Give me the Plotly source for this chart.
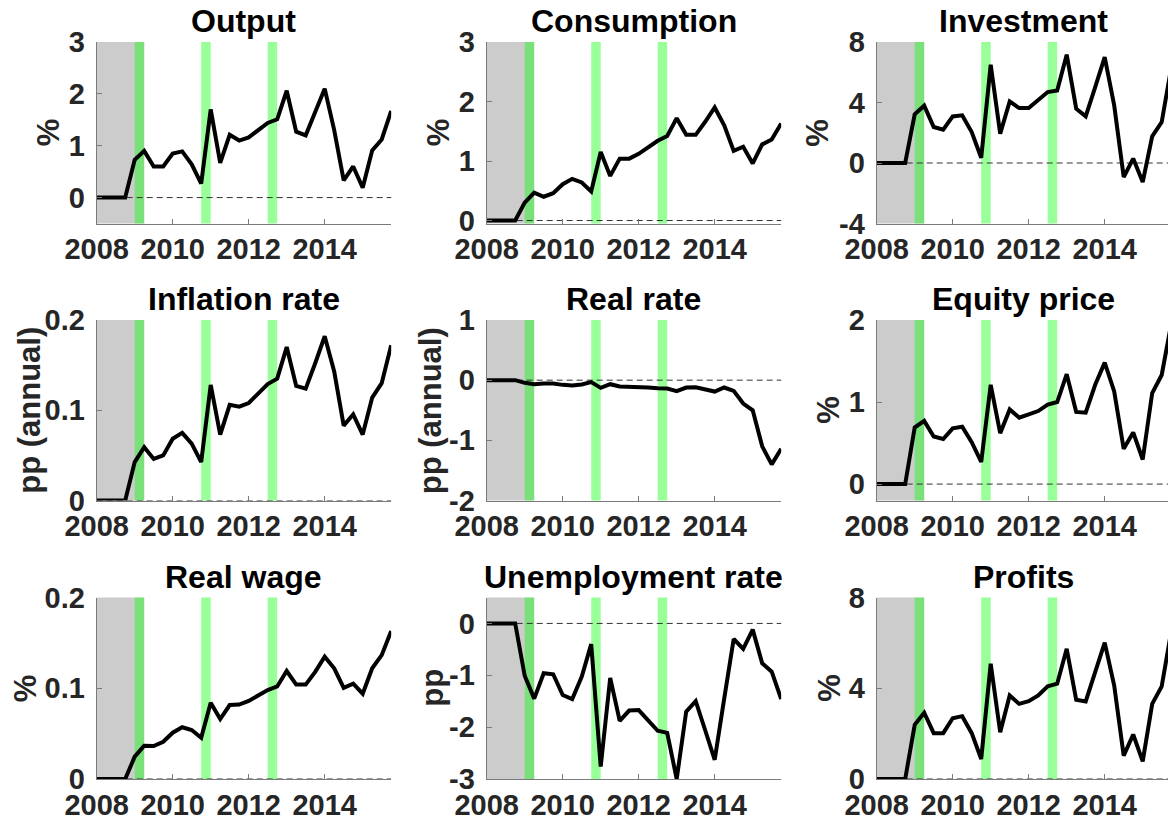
import plotly.graph_objects as go

# ---------------- data ----------------
quarters = [2008.0, 2008.25, 2008.5, 2008.75, 2009.0, 2009.25, 2009.5, 2009.75,
            2010.0, 2010.25, 2010.5, 2010.75, 2011.0, 2011.25, 2011.5, 2011.75,
            2012.0, 2012.25, 2012.5, 2012.75, 2013.0, 2013.25, 2013.5, 2013.75,
            2014.0, 2014.25, 2014.5, 2014.75, 2015.0, 2015.25, 2015.5, 2015.75]

output = [0, 0, 0, 0, 0.73, 0.90, 0.60, 0.60, 0.85, 0.89, 0.64, 0.27,
          1.70, 0.67, 1.21, 1.10, 1.16, 1.30, 1.44, 1.51, 2.06, 1.27, 1.20, 1.65,
          2.10, 1.30, 0.33, 0.60, 0.19, 0.91, 1.12, 1.67]
consumption = [0, 0, 0, 0, 0.30, 0.47, 0.40, 0.46, 0.61, 0.70, 0.64, 0.49,
               1.15, 0.75, 1.04, 1.04, 1.12, 1.22, 1.34, 1.42, 1.72, 1.44, 1.44, 1.66,
               1.90, 1.60, 1.17, 1.24, 0.96, 1.28, 1.36, 1.63]
investment = [0, 0, 0, 0, 3.22, 3.79, 2.38, 2.20, 3.08, 3.15, 2.05, 0.35,
              6.50, 1.94, 4.07, 3.63, 3.63, 4.14, 4.69, 4.80, 7.16, 3.59, 3.08, 5.02,
              7.00, 3.81, -0.93, 0.29, -1.26, 1.76, 2.71, 6.30]
inflation = [0, 0, 0, 0, 0.0426, 0.059, 0.046, 0.050, 0.0685, 0.075, 0.063, 0.0426,
             0.128, 0.073, 0.106, 0.104, 0.108, 0.1185, 0.129, 0.135, 0.170, 0.127, 0.124, 0.152,
             0.182, 0.143, 0.083, 0.0955, 0.073, 0.114, 0.130, 0.172]
real_rate = [0, 0, 0, 0, -0.044, -0.067, -0.056, -0.056, -0.078, -0.089, -0.072, -0.033,
             -0.128, -0.067, -0.106, -0.106, -0.111, -0.122, -0.133, -0.139, -0.183, -0.122, -0.117, -0.150,
             -0.189, -0.122, -0.178, -0.389, -0.50, -1.10, -1.40, -1.14]
equity = [0, 0, 0, 0, 0.69, 0.77, 0.58, 0.55, 0.68, 0.70, 0.51, 0.27,
          1.21, 0.62, 0.91, 0.81, 0.85, 0.89, 0.97, 1.00, 1.34, 0.88, 0.87, 1.21,
          1.48, 1.13, 0.43, 0.63, 0.30, 1.11, 1.33, 1.95]
real_wage = [0, 0, 0, 0, 0.0246, 0.0367, 0.0363, 0.041, 0.051, 0.057, 0.054, 0.0455,
             0.084, 0.066, 0.0815, 0.082, 0.086, 0.0925, 0.098, 0.102, 0.119, 0.104, 0.104, 0.118,
             0.1347, 0.122, 0.1005, 0.105, 0.094, 0.122, 0.1365, 0.163]
unemployment = [0, 0, 0, 0, -1.01, -1.45, -0.96, -0.98, -1.38, -1.46, -1.03, -0.40,
                -2.76, -1.05, -1.88, -1.68, -1.67, -1.88, -2.07, -2.11, -3.00, -1.70, -1.50, -2.06,
                -2.63, -1.45, -0.30, -0.49, -0.12, -0.77, -0.93, -1.46]
profits = [0, 0, 0, 0, 2.39, 2.92, 2.02, 2.02, 2.68, 2.77, 2.02, 0.88,
           5.08, 2.06, 3.68, 3.31, 3.43, 3.68, 4.09, 4.20, 5.74, 3.49, 3.42, 4.74,
           6.01, 4.12, 1.03, 1.96, 0.78, 3.31, 4.08, 6.50]

titles = ["Output", "Consumption", "Investment",
          "Inflation rate", "Real rate", "Equity price",
          "Real wage", "Unemployment rate", "Profits"]
ylabels = ["%", "%", "%",
           "pp (annual)", "pp (annual)", "%",
           "%", "pp", "%"]
series = [output, consumption, investment,
          inflation, real_rate, equity,
          real_wage, unemployment, profits]
yranges = [[-0.5, 3], [-0.05, 3], [-4, 8],
           [0, 0.2], [-2, 1], [-0.2, 2],
           [0, 0.2], [-3, 0.5], [0, 8]]
yticks = [[0, 1, 2, 3], [0, 1, 2, 3], [-4, 0, 4, 8],
          [0, 0.1, 0.2], [-2, -1, 0, 1], [0, 1, 2],
          [0, 0.1, 0.2], [-3, -2, -1, 0], [0, 4, 8]]
xtick_vals = [2008, 2010, 2012, 2014]
xtick_text = ["2008", "2010", "2012", "2014"]

recession = [2008.0, 2009.25]
green_bands = [[2009.0, 2009.25], [2010.75, 2011.0], [2012.5, 2012.75]]
x_full = [2008.0, 2015.75]

# ---------------- layout geometry (pixels) ----------------
W, H = 1168, 821
col_left = [96.7, 486.7, 876.7]
plot_w = 294.5
row_top = [42.0, 320.0, 597.5]
row_bot = [223.5, 500.5, 779.0]
ylabel_x = [48.5, 438.5, 818, 29.5, 430, 828.5, 25, 432.5, 829.5]

FONT = "Liberation Sans, Arial, Helvetica, sans-serif"
AX_COLOR = "#262626"
LINE_COL = "#7a7a7a"

fig = go.Figure()
layout = dict(
    width=W, height=H, autosize=False,
    margin=dict(l=0, r=0, t=0, b=0, pad=0),
    paper_bgcolor="white", plot_bgcolor="white",
    showlegend=False,
    font=dict(family=FONT, size=28, color=AX_COLOR, weight="bold"),
    shapes=[], annotations=[],
)

for k in range(9):
    r, c = divmod(k, 3)
    n = k + 1
    xs = "" if n == 1 else str(n)
    x0p = col_left[c]
    x1p = min(col_left[c] + plot_w, W)
    xr1 = x_full[0] + (x_full[1] - x_full[0]) * (x1p - x0p) / plot_w
    layout[f"xaxis{xs}"] = dict(
        domain=[x0p / W, x1p / W], anchor=f"y{xs}", automargin=False,
        range=[x_full[0], xr1],
        showline=True, linecolor=LINE_COL, linewidth=1,
        ticks="inside", ticklen=5, tickwidth=1, tickcolor=LINE_COL,
        tickvals=xtick_vals, ticktext=xtick_text,
        showgrid=False, zeroline=False, fixedrange=True,
        tickfont=dict(family=FONT, size=29, color=AX_COLOR, weight="bold"),
        ticklabelstandoff=0,
    )
    layout[f"yaxis{xs}"] = dict(
        domain=[1 - row_bot[r] / H, 1 - row_top[r] / H], anchor=f"x{xs}",
        automargin=False,
        range=yranges[k],
        showline=True, linecolor=LINE_COL, linewidth=1,
        ticks="inside", ticklen=5, tickwidth=1, tickcolor=LINE_COL,
        tickvals=yticks[k], ticktext=[f"{v:g}" for v in yticks[k]],
        showgrid=False, zeroline=False, fixedrange=True,
        tickfont=dict(family=FONT, size=29, color=AX_COLOR, weight="bold"),
        ticklabelstandoff=5,
    )
    # shading
    layout["shapes"].append(dict(
        type="rect", xref=f"x{xs}", yref=f"y{xs} domain",
        x0=recession[0], x1=recession[1], y0=0, y1=1,
        fillcolor="#cccccc", line=dict(width=0), layer="below"))
    for b in green_bands:
        layout["shapes"].append(dict(
            type="rect", xref=f"x{xs}", yref=f"y{xs} domain",
            x0=b[0], x1=b[1], y0=0, y1=1,
            fillcolor="rgba(0,255,0,0.4)", line=dict(width=0), layer="below"))
    layout["shapes"].append(dict(
        type="line", xref=f"x{xs} domain", yref=f"y{xs}",
        x0=0, x1=1, y0=0, y1=0,
        line=dict(color="#333333", width=1, dash="6px,4px"), layer="below"))
    # title
    cx = (col_left[c] + plot_w / 2) / W
    layout["annotations"].append(dict(
        text=titles[k], xref="paper", yref="paper",
        x=cx, y=1 - row_top[r] / H, xanchor="center", yanchor="bottom",
        yshift=1, showarrow=False,
        font=dict(family=FONT, size=32, color="black", weight="bold")))
    # y label
    layout["annotations"].append(dict(
        text=ylabels[k], xref="paper", yref="paper",
        x=ylabel_x[k] / W, y=1 - (row_top[r] + row_bot[r]) / 2 / H,
        xanchor="center", yanchor="middle", textangle=-90, showarrow=False,
        font=dict(family=FONT, size=31, color=AX_COLOR, weight="bold")))
    fig.add_trace(go.Scatter(
        x=quarters, y=series[k], xaxis=f"x{xs}", yaxis=f"y{xs}",
        mode="lines", line=dict(color="black", width=4),
        hoverinfo="skip", showlegend=False))

fig.update_layout(**layout)
fig.write_html("out.html",
               config={"displayModeBar": False},
               post_script="document.body.style.margin='0px';document.body.style.overflow='hidden';")
